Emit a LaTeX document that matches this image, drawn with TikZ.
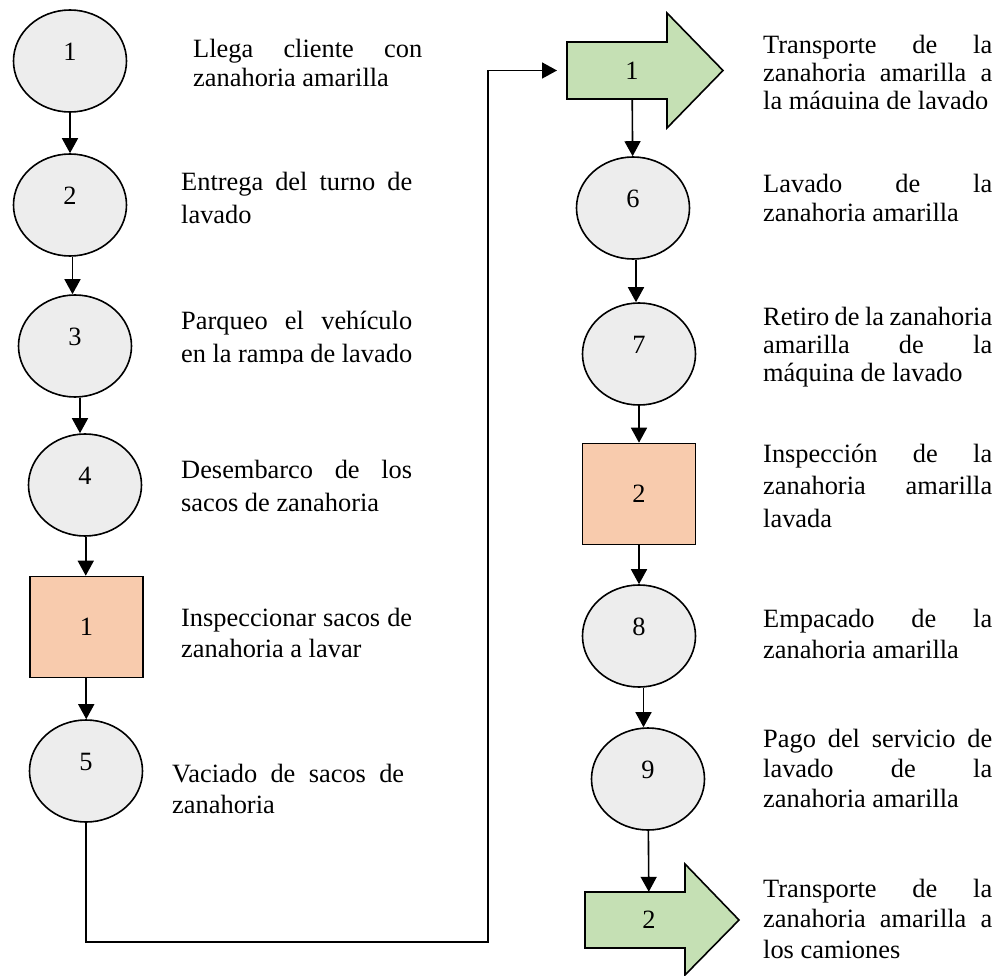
\documentclass[tikz,border=0pt]{standalone}
\usepackage{fontspec}
\setmainfont{Liberation Serif}
\usetikzlibrary{arrows.meta,shapes.geometric,calc}
\definecolor{opgray}{HTML}{EDEDED}
\definecolor{inspfill}{HTML}{F8CBAD}
\definecolor{transfill}{HTML}{C5E0B4}
\hyphenpenalty=10000 \exhyphenpenalty=10000 \tolerance=10000 \hbadness=10000 \hfuzz=20pt
\begin{document}
\begin{tikzpicture}[x=1pt,y=-1pt,
  every node/.style={font=\fontsize{26.4}{30}\selectfont},
  op/.style={ellipse, draw, line width=1.6pt, fill=opgray, minimum width=113pt, minimum height=102pt, inner sep=0pt, text height=17pt, text depth=18pt},
  insp/.style={rectangle, draw, line width=1.6pt, fill=inspfill, minimum width=113pt, minimum height=101pt, inner sep=0pt},
  tnum/.style={inner sep=0pt, minimum width=100pt},
  tshape/.style={draw, line width=1.6pt, fill=transfill, line join=miter},
  arr/.style={line width=1.6pt, -{Triangle[length=15pt,width=16pt]}},
  desc/.style={anchor=base west, inner sep=0pt, text width=#1, align=justify},
]
\useasboundingbox (0,0) rectangle (1006,976);

% left column
\node[op] (e1) at (70,61) {1};
\node[op] (e2) at (70,205) {2};
\node[op] (e3) at (75,346) {3};
\node[op] (e4) at (85,485) {4};
\node[insp] (i1) at (86.5,627) {1};
\node[op] (e5) at (86,771) {5};

% right column
\draw[tshape] (567,42) -- (667,42) -- (667,13) -- (723,70.5) -- (667,128) -- (667,99) -- (567,99) -- cycle;
\node[tnum, minimum height=57pt] (t1) at (632,70.5) {1};
\node[op] (e6) at (633,208) {6};
\node[op] (e7) at (639,354) {7};
\node[insp] (i2) at (639,494) {2};
\node[op] (e8) at (639,636) {8};
\node[op] (e9) at (648,779) {9};
\draw[tshape] (585,892) -- (685,892) -- (685,864) -- (739,920) -- (685,975) -- (685,948) -- (585,948) -- cycle;
\node[tnum, minimum height=56pt] (t2) at (649,920) {2};

% connectors
\foreach \a/\b in {e1/e2, e2/e3, e3/e4, e4/i1, i1/e5, e6/e7, e7/i2, i2/e8, e8/e9}{
  \path ($(\a.south)!.5!(\b.north)$) coordinate (m-\a);
  \draw[arr] (m-\a |- \a.south) -- (m-\a |- \b.north);
}
\coordinate (c1) at (488,942);
\coordinate (a1) at (557,70.5);
\draw[line width=1.6pt, -{Triangle[length=15pt,width=16pt]}] (e5.south) |- (c1) |- (a1);
\draw[arr] (t1) -- (e6);
\draw[arr] (e9) -- (t2);

% left descriptions
\node[desc=229pt, font=\fontsize{26.4}{29.4}\selectfont] (d1) at (193,57.3) {Llega cliente con\linebreak zanahoria amarilla};
\node[desc=231pt, font=\fontsize{26.4}{32.7}\selectfont] (d2) at (181,190.7) {Entrega del turno de\linebreak lavado};
\begin{scope}
\clip (170,290) rectangle (430,363.5);
\node[desc=231pt, font=\fontsize{26.4}{32.7}\selectfont] (d3) at (181,329.3) {Parqueo el vehículo\linebreak en la rampa de lavado};
\end{scope}
\node[desc=231pt, font=\fontsize{26.4}{32.7}\selectfont] (d4) at (181,478.3) {Desembarco de los\linebreak sacos de zanahoria};
\node[desc=231pt, font=\fontsize{26.4}{30.5}\selectfont] (d5) at (181,626.7) {Inspeccionar sacos de\linebreak zanahoria a lavar};
\node[desc=232pt, font=\fontsize{26.4}{31}\selectfont] (d6) at (172,782) {Vaciado de sacos de\linebreak zanahoria};

% right descriptions
\begin{scope}
\clip (750,0) rectangle (1006,108.5);
\node[desc=229pt, font=\fontsize{26.4}{28.2}\selectfont] (r1) at (763,53.3) {Transporte de la\linebreak zanahoria amarilla a\linebreak la máquina de lavado};
\end{scope}
\node[desc=229pt, font=\fontsize{26.4}{29}\selectfont] (r2) at (763,193) {Lavado de la\linebreak zanahoria amarilla};
\node[desc=229pt, font=\fontsize{26.4}{28.3}\selectfont] (r3) at (763,325) {Retiro de la zanahoria\linebreak amarilla de la\linebreak máquina de lavado};
\node[desc=229pt, font=\fontsize{26.4}{32.5}\selectfont] (r4) at (763,462) {Inspección de la\linebreak zanahoria amarilla\linebreak lavada};
\node[desc=229pt, font=\fontsize{26.4}{31}\selectfont] (r5) at (763,627) {Empacado de la\linebreak zanahoria amarilla};
\node[desc=229pt, font=\fontsize{26.4}{30}\selectfont] (r6) at (763,747) {Pago del servicio de\linebreak lavado de la\linebreak zanahoria amarilla};
\node[desc=229pt, font=\fontsize{26.4}{30.5}\selectfont] (r7) at (763,897) {Transporte de la\linebreak zanahoria amarilla a\linebreak los camiones};
\end{tikzpicture}
\end{document}
